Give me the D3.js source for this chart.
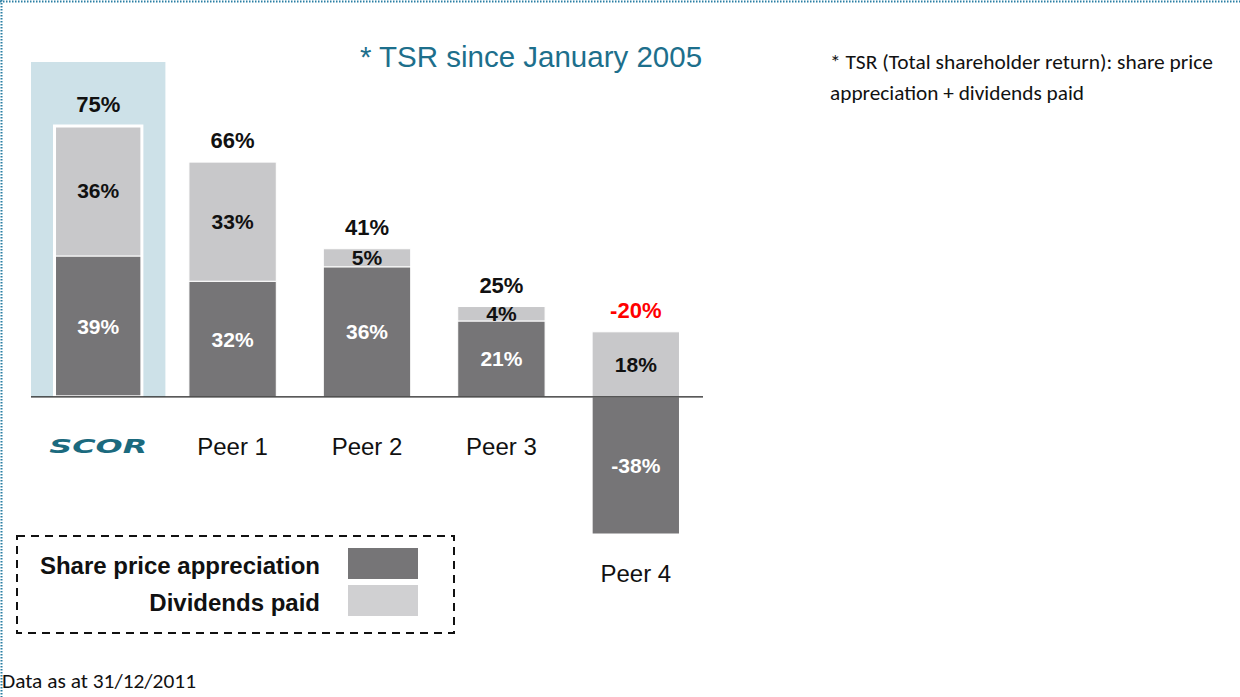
<!DOCTYPE html>
<html>
<head>
<meta charset="utf-8">
<script src="https://cdn.jsdelivr.net/npm/d3@7"></script>
<style>
  body { margin: 0; background: #fff; }
  svg { display: block; }
</style>
</head>
<body>
<svg id="chart" width="1240" height="697"></svg>
<script>
// values
var categories = ["SCOR", "Peer 1", "Peer 2", "Peer 3", "Peer 4"];
var sharePrice = [39, 32, 36, 21, -38];
var dividends = [36, 33, 5, 4, 18];
var totals = [75, 66, 41, 25, -20];
var seriesNames = ["Share price appreciation", "Dividends paid"];

var darkGrey = "#767577",
    lightGrey = "#c8c8ca",
    teal = "#1d6f8c",
    arial = "Liberation Sans, Arial, sans-serif",
    noteFont = "Carlito, Calibri, Lato, sans-serif";

var svg = d3.select("#chart");

// dotted frame (top + left)
svg.append("line").attr("x1", 0).attr("x2", 1240).attr("y1", 1.5).attr("y2", 1.5)
    .attr("stroke", "#2b7fa3").attr("stroke-width", 2).attr("stroke-dasharray", "1.5,1.5");
svg.append("line").attr("x1", 1.5).attr("x2", 1.5).attr("y1", 0).attr("y2", 697)
    .attr("stroke", "#2b7fa3").attr("stroke-width", 2).attr("stroke-dasharray", "1.5,1.5");

var data = categories.map(function(c, i) {
    return { cat: c, share: sharePrice[i], div: dividends[i], total: totals[i] };
});

var x = d3.scaleBand()
    .domain(categories)
    .range([31, 703])
    .paddingInner(0.35)
    .paddingOuter(0.175);

var y = d3.scaleLinear()
    .domain([-38, 75])
    .range([534, 126]);

var stack = d3.stack()
    .keys(["share", "div"])
    .offset(d3.stackOffsetDiverging);
var layers = stack(data);

// highlight behind SCOR
svg.append("rect")
    .attr("x", x.range()[0])
    .attr("y", 62)
    .attr("width", x.step())
    .attr("height", y(0) - 62)
    .attr("fill", "#cde1e8");

// title
svg.append("text")
    .attr("x", 531).attr("y", 67)
    .attr("text-anchor", "middle")
    .attr("font-family", arial)
    .attr("font-size", 29.5)
    .attr("fill", teal)
    .text("* TSR since January 2005");

var g = svg.append("g");

var colors = { share: darkGrey, div: lightGrey };

layers.forEach(function(layer) {
    g.selectAll("rect." + layer.key)
        .data(layer)
        .join("rect")
        .attr("class", layer.key)
        .attr("x", function(d) { return x(d.data.cat); })
        .attr("y", function(d) { return y(Math.max(d[0], d[1])); })
        .attr("width", x.bandwidth())
        .attr("height", function(d) { return Math.abs(y(d[0]) - y(d[1])); })
        .attr("fill", colors[layer.key])
        .attr("stroke", "#fff")
        .attr("stroke-width", 1);
});

// white outline round the SCOR bar
var scor = data[0];
svg.append("rect")
    .attr("x", x("SCOR"))
    .attr("y", y(scor.share + scor.div))
    .attr("width", x.bandwidth())
    .attr("height", y(0) - y(scor.share + scor.div))
    .attr("fill", "none")
    .attr("stroke", "#fff")
    .attr("stroke-width", 3);

// baseline
svg.append("line")
    .attr("x1", 31).attr("x2", 703)
    .attr("y1", y(0)).attr("y2", y(0))
    .attr("stroke", "#222").attr("stroke-width", 1.3);

// segment labels
layers.forEach(function(layer) {
    g.selectAll("text." + layer.key)
        .data(layer)
        .join("text")
        .attr("class", layer.key)
        .attr("x", function(d) { return x(d.data.cat) + x.bandwidth() / 2; })
        .attr("y", function(d) { return (y(d[0]) + y(d[1])) / 2 + 7.5; })
        .attr("text-anchor", "middle")
        .attr("font-family", arial)
        .attr("font-weight", "bold")
        .attr("font-size", 21)
        .attr("fill", layer.key === "share" ? "#fff" : "#111")
        .text(function(d) { return d.data[layer.key] + "%"; });
});

// total labels
g.selectAll("text.total")
    .data(data)
    .join("text")
    .attr("class", "total")
    .attr("x", function(d) { return x(d.cat) + x.bandwidth() / 2; })
    .attr("y", function(d) { return y(Math.max(d.share, 0) + d.div) - 14; })
    .attr("text-anchor", "middle")
    .attr("font-family", arial)
    .attr("font-weight", "bold")
    .attr("font-size", 22)
    .attr("fill", function(d) { return d.total < 0 ? "#ff0000" : "#111"; })
    .text(function(d) { return d.total + "%"; });

// category labels
g.selectAll("text.cat")
    .data(data.slice(1))
    .join("text")
    .attr("class", "cat")
    .attr("x", function(d) { return x(d.cat) + x.bandwidth() / 2; })
    .attr("y", function(d) { return d.share < 0 ? y(d.share) + 48 : y(0) + 58; })
    .attr("text-anchor", "middle")
    .attr("font-family", arial)
    .attr("font-size", 24)
    .attr("fill", "#111")
    .text(function(d) { return d.cat; });

// SCOR logo as text
svg.append("text")
    .attr("x", x("SCOR") + x.bandwidth() / 2)
    .attr("y", y(0) + 56)
    .attr("text-anchor", "middle")
    .attr("font-family", "DejaVu Sans, sans-serif")
    .attr("font-weight", "bold")
    .attr("font-style", "italic")
    .attr("font-size", 20)
    .attr("textLength", 98)
    .attr("lengthAdjust", "spacingAndGlyphs")
    .attr("fill", "#1b6a7e")
    .text("SCOR");

// legend
svg.append("rect")
    .attr("x", 17).attr("y", 536)
    .attr("width", 437).attr("height", 97)
    .attr("fill", "none")
    .attr("stroke", "#111")
    .attr("stroke-width", 2)
    .attr("stroke-dasharray", "8,6");

var legendColors = [darkGrey, "#d0d0d2"];
var legend = svg.selectAll("g.legend")
    .data(seriesNames)
    .join("g")
    .attr("class", "legend")
    .attr("transform", function(d, i) { return "translate(0," + (i * 37) + ")"; });

legend.append("text")
    .attr("x", 320).attr("y", 573.5)
    .attr("text-anchor", "end")
    .attr("font-family", arial)
    .attr("font-weight", "bold")
    .attr("font-size", 24)
    .attr("fill", "#111")
    .text(function(d) { return d; });

legend.append("rect")
    .attr("x", 348).attr("y", 548)
    .attr("width", 70).attr("height", 31)
    .attr("fill", function(d, i) { return legendColors[i]; });

// footnotes
svg.append("text")
    .attr("x", 830).attr("y", 69)
    .attr("font-family", noteFont).attr("font-size", 21).attr("fill", "#111")
    .attr("textLength", 383).attr("lengthAdjust", "spacingAndGlyphs")
    .text("* TSR (Total shareholder return): share price");
svg.append("text")
    .attr("x", 830).attr("y", 100)
    .attr("font-family", noteFont).attr("font-size", 21).attr("fill", "#111")
    .attr("textLength", 254).attr("lengthAdjust", "spacingAndGlyphs")
    .text("appreciation + dividends paid");

svg.append("text")
    .attr("x", 2).attr("y", 688)
    .attr("font-family", noteFont).attr("font-size", 21).attr("fill", "#111")
    .attr("textLength", 194).attr("lengthAdjust", "spacingAndGlyphs")
    .text("Data as at 31/12/2011");
</script>
</body>
</html>
